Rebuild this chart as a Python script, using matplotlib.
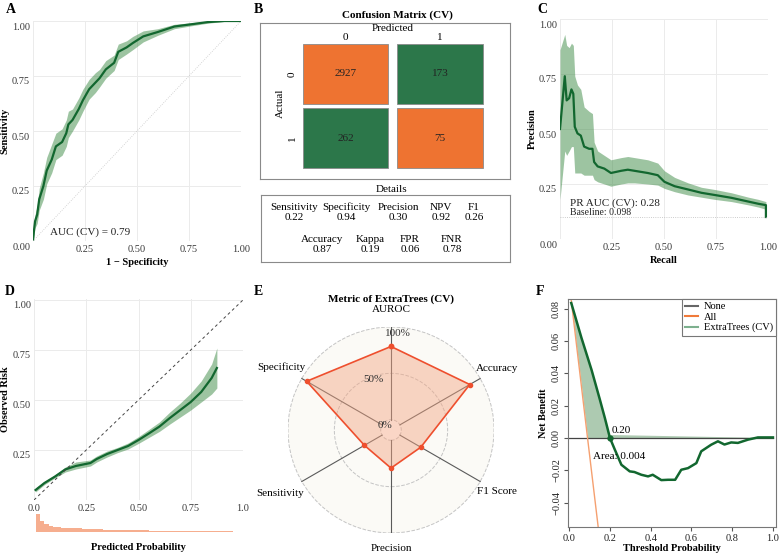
import numpy as np
import matplotlib
matplotlib.use("Agg")
import matplotlib.pyplot as plt
import matplotlib.transforms as mtransforms
from matplotlib.lines import Line2D
from matplotlib.patches import Circle

plt.rcParams["font.family"] = ["Liberation Serif", "DejaVu Serif"]

GREEN = "#12672F"
BAND = "#3C8A45"
GRID = "#EBEBEB"
TICK = "#3A3A3A"

# ---- A: ROC (CV) ----
fpr = [0, 0.005, 0.01, 0.02, 0.03, 0.05, 0.066, 0.09, 0.11, 0.14, 0.16, 0.17, 0.19, 0.22, 0.24,
       0.27, 0.30, 0.32, 0.35, 0.39, 0.41, 0.45, 0.48, 0.53, 0.60, 0.68, 0.76, 0.84, 0.92, 1.0]
tpr = [0, 0.05, 0.09, 0.12, 0.19, 0.25, 0.32, 0.37, 0.43, 0.45, 0.49, 0.53, 0.55, 0.60, 0.64,
       0.69, 0.72, 0.74, 0.78, 0.81, 0.86, 0.88, 0.90, 0.93, 0.95, 0.975, 0.985, 0.995, 1.0, 1.0]
tpr_lo = [0, 0.03, 0.06, 0.08, 0.14, 0.19, 0.26, 0.31, 0.37, 0.39, 0.43, 0.47, 0.50, 0.55, 0.59,
          0.645, 0.675, 0.70, 0.74, 0.775, 0.825, 0.85, 0.87, 0.905, 0.935, 0.965, 0.978, 0.99, 0.998, 1.0]
tpr_hi = [0, 0.07, 0.12, 0.16, 0.24, 0.31, 0.38, 0.44, 0.49, 0.51, 0.55, 0.59, 0.60, 0.65, 0.69,
          0.735, 0.765, 0.78, 0.82, 0.845, 0.895, 0.91, 0.93, 0.955, 0.965, 0.985, 0.992, 1.0, 1.0, 1.0]
roc_auc = 0.79

# ---- B: confusion matrix ----
cm_values = [[2927, 173], [262, 75]]
cm_colors = [["#EE7331", "#2C774A"], ["#2C774A", "#EE7331"]]
class_labels = ["0", "1"]
detail_names_1 = ["Sensitivity", "Specificity", "Precision", "NPV", "F1"]
detail_vals_1 = ["0.22", "0.94", "0.30", "0.92", "0.26"]
detail_names_2 = ["Accuracy", "Kappa", "FPR", "FNR"]
detail_vals_2 = ["0.87", "0.19", "0.06", "0.78"]

# ---- C: precision-recall ----
recall = [0, 0.023, 0.032, 0.044, 0.055, 0.064, 0.071, 0.084, 0.10, 0.116, 0.14, 0.156, 0.164,
          0.181, 0.213, 0.245, 0.294, 0.326, 0.358, 0.422, 0.47, 0.502, 0.551, 0.616, 0.68,
          0.744, 0.825, 0.906, 0.954, 0.99, 0.99]
precision = [0.50, 0.74, 0.63, 0.64, 0.68, 0.66, 0.51, 0.48, 0.47, 0.42, 0.41, 0.41, 0.35,
             0.33, 0.32, 0.30, 0.31, 0.315, 0.31, 0.30, 0.29, 0.26, 0.24, 0.225, 0.21,
             0.20, 0.187, 0.17, 0.16, 0.154, 0.10]
prec_lo = [0.18, 0.40, 0.38, 0.40, 0.42, 0.42, 0.30, 0.30, 0.30, 0.29, 0.29, 0.29, 0.27,
           0.26, 0.25, 0.24, 0.25, 0.255, 0.255, 0.25, 0.245, 0.23, 0.215, 0.20, 0.19,
           0.18, 0.17, 0.155, 0.145, 0.135, 0.135]
prec_hi = [0.86, 0.93, 0.88, 0.87, 0.89, 0.88, 0.74, 0.70, 0.68, 0.60, 0.58, 0.57, 0.44,
           0.40, 0.38, 0.36, 0.37, 0.375, 0.37, 0.36, 0.345, 0.31, 0.28, 0.255, 0.235,
           0.225, 0.21, 0.19, 0.18, 0.17, 0.17]
pr_auc = 0.28
baseline = 0.098

# ---- D: calibration ----
cal_x = [0.0075, 0.05, 0.1, 0.15, 0.2, 0.27, 0.3, 0.35, 0.4, 0.45, 0.5, 0.55, 0.6, 0.65,
         0.7, 0.75, 0.8, 0.85, 0.875]
cal_y = [0.05, 0.085, 0.117, 0.153, 0.17, 0.185, 0.205, 0.23, 0.25, 0.27, 0.30, 0.333,
         0.367, 0.41, 0.45, 0.49, 0.54, 0.61, 0.66]
cal_lo = [0.04, 0.077, 0.11, 0.14, 0.155, 0.17, 0.19, 0.215, 0.237, 0.255, 0.283, 0.313,
          0.343, 0.38, 0.415, 0.45, 0.49, 0.53, 0.56]
cal_hi = [0.06, 0.093, 0.125, 0.165, 0.19, 0.20, 0.22, 0.245, 0.263, 0.285, 0.317, 0.353,
          0.39, 0.44, 0.485, 0.535, 0.595, 0.68, 0.76]
hist_edges = np.arange(0.01, 0.95, 0.02)
hist_counts = [100, 62, 44, 35, 30, 26, 23, 22, 21, 22, 20, 18, 17, 16, 15, 14, 13, 13, 12,
               12, 11, 11, 10, 10, 9, 9, 9, 8, 8, 8, 7, 7, 7, 6, 6, 6, 5, 5, 5, 5, 4, 4, 4,
               4, 3, 3, 3]

# ---- E: radar ----
radar_labels = ["AUROC", "Accuracy", "F1 Score", "Precision", "Sensitivity", "Specificity"]
radar_values = [0.79, 0.87, 0.26, 0.30, 0.22, 0.94]
radar_grid = [0.0, 0.5, 1.0]
radar_grid_labels = ["0%", "50%", "100%"]

# ---- F: decision curve ----
thr = [0.01, 0.06, 0.11, 0.15, 0.175, 0.2, 0.224, 0.256, 0.297, 0.32, 0.354, 0.387, 0.41,
       0.452, 0.485, 0.52, 0.55, 0.583, 0.624, 0.648, 0.697, 0.73, 0.762, 0.795, 0.828,
       0.877, 0.926, 1.0]
nb_model = [0.0835, 0.062, 0.042, 0.024, 0.0124, 0.0, -0.0072, -0.0165, -0.0206, -0.021,
            -0.0227, -0.0237, -0.0227, -0.026, -0.0258, -0.0258, -0.0196, -0.0186, -0.0155,
            -0.0082, -0.0041, -0.002, -0.004, -0.0027, -0.003, -0.001, 0.0004, 0.0004]
thr_all = [0.01, 0.09, 0.145]
nb_all = [0.085, 0.0, -0.058]
thr_none = [0.0, 1.0]
nb_none = [0.0, 0.0]
shade_x = [0.01, 0.06, 0.09, 0.11, 0.15, 0.175, 0.2]
shade_hi = [0.0835, 0.062, 0.050, 0.042, 0.024, 0.0124, 0.0]
shade_lo = [0.0835, 0.032, 0.0, 0.0, 0.0, 0.0, 0.0]
sliver_x = [0.2, 1.0]
sliver_hi = [0.0022, 0.0003]
cross_thr = 0.20
dca_area = 0.004

W, H = 779, 554
fig = plt.figure(figsize=(W / 100, H / 100), dpi=100)


def px_axes(x0, y0, x1, y1, **kw):
    return fig.add_axes([x0 / W, 1 - y1 / H, (x1 - x0) / W, (y1 - y0) / H], **kw)


def gg_style(ax):
    for s in ax.spines.values():
        s.set_visible(False)
    ax.grid(True, color=GRID, lw=0.7)
    ax.set_axisbelow(True)
    ax.tick_params(length=0, labelsize=7.5, labelcolor=TICK)
    ax.tick_params(axis="y", pad=2)
    ax.tick_params(axis="x", pad=3)


def shift_ylabels(ax, dy=-5):
    off = mtransforms.ScaledTranslation(0, dy / 100, fig.dpi_scale_trans)
    for lab in ax.get_yticklabels():
        lab.set_transform(lab.get_transform() + off)


ticks = [0, 0.25, 0.5, 0.75, 1.0]
# the shared corner "0.00" is carried by the y axis only
xlabels_2d = [""] + [f"{t:.2f}" for t in ticks[1:]]

# A
ax = px_axes(33, 21, 241, 241)
gg_style(ax)
ax.fill_between(fpr, tpr_lo, tpr_hi, color=BAND, alpha=0.5, lw=0)
ax.plot(fpr, tpr, color=GREEN, lw=1.6)
ax.plot([0, 1], [0, 1], color="#C8C8C8", lw=0.6, ls=":")
ax.set_xlim(0, 1)
ax.set_ylim(0, 1)
ax.set_xticks(ticks)
ax.set_yticks(ticks)
ax.set_xticklabels(xlabels_2d)
ax.set_yticklabels([f"{t:.2f}" for t in ticks])
shift_ylabels(ax)
ax.text(0.08, 0.04, f"AUC (CV) = {roc_auc:.2f}", fontsize=8, color="#222222", va="center")
ax.set_xlabel("1 \u2212 Specificity", fontsize=7.5, fontweight="bold", labelpad=3)
ax.set_ylabel("Sensitivity", fontsize=7.5, fontweight="bold", va="center")
ax.yaxis.set_label_coords(-0.135, 0.5)

# B
axb = px_axes(260, 23, 510, 179)
axb.set_xlim(-0.905, 1.741)
axb.set_ylim(1.628, -0.79)
axb.set_xticks([])
axb.set_yticks([])
for s in axb.spines.values():
    s.set_color("#8A8A8A")
    s.set_linewidth(0.8)
for r in range(2):
    axb.bar([0, 1], [0.93, 0.93], bottom=r - 0.465, width=0.9, color=cm_colors[r],
            edgecolor="#8A8A8A", linewidth=0.6)
    for c in range(2):
        axb.text(c, r, str(cm_values[r][c]), ha="center", va="center", fontsize=8, color="#222222")
axb.text(0.5, -0.70, "Predicted", ha="center", va="center", fontsize=8)
for c, lab in enumerate(class_labels):
    axb.text(c, -0.56, lab, ha="center", va="center", fontsize=8)
    axb.text(-0.56, c, lab, ha="center", va="center", fontsize=8, rotation=90)
axb.text(-0.69, 0.46, "Actual", ha="center", va="center", fontsize=8, rotation=90)
fig.text(397 / W, 1 - 15 / H, "Confusion Matrix (CV)", ha="center", va="center",
         fontsize=8, fontweight="bold")

axd = px_axes(261, 195, 510, 262)
axd.set_xlim(0, 1)
axd.set_ylim(0, 1)
axd.set_xticks([])
axd.set_yticks([])
for s in axd.spines.values():
    s.set_color("#8A8A8A")
    s.set_linewidth(0.8)
fig.text(392 / W, 1 - 190 / H, "Details", ha="center", va="center", fontsize=8)
x1 = [0.133, 0.341, 0.55, 0.723, 0.855]
x2 = [0.245, 0.438, 0.598, 0.767]
for xp, n, v in zip(x1, detail_names_1, detail_vals_1):
    axd.text(xp, 0.82, n, ha="center", va="center", fontsize=8)
    axd.text(xp, 0.67, v, ha="center", va="center", fontsize=8)
for xp, n, v in zip(x2, detail_names_2, detail_vals_2):
    axd.text(xp, 0.33, n, ha="center", va="center", fontsize=8)
    axd.text(xp, 0.18, v, ha="center", va="center", fontsize=8)

# C
ax = px_axes(560, 19, 768, 239)
gg_style(ax)
ax.fill_between(recall, prec_lo, prec_hi, color=BAND, alpha=0.5, lw=0)
ax.plot(recall, precision, color=GREEN, lw=1.6)
ax.axhline(baseline, color="#BBBBBB", lw=0.6, ls=":")
ax.set_xlim(0, 1)
ax.set_ylim(0, 1)
ax.set_xticks(ticks)
ax.set_yticks(ticks)
ax.set_xticklabels(xlabels_2d)
ax.set_yticklabels([f"{t:.2f}" for t in ticks])
shift_ylabels(ax)
ax.text(0.05, 0.165, f"PR AUC (CV): {pr_auc:.2f}", fontsize=8, color="#222222", va="center")
ax.text(0.05, 0.12, f"Baseline: {baseline:.3f}", fontsize=7, color="#222222", va="center")
ax.set_xlabel("Recall", fontsize=7.5, fontweight="bold", labelpad=3)
ax.set_ylabel("Precision", fontsize=7.5, fontweight="bold", va="center")
ax.yaxis.set_label_coords(-0.135, 0.5)

# D
ax = px_axes(34, 299, 243, 500)
gg_style(ax)
ax.fill_between(cal_x, cal_lo, cal_hi, color=BAND, alpha=0.5, lw=0)
ax.plot(cal_x, cal_y, color=GREEN, lw=1.6)
ax.plot([0, 1], [0, 1], color="#444444", lw=0.7, ls=(0, (3, 3)))
ax.set_xlim(0, 1)
ax.set_ylim(0, 1.005)
ax.set_xticks(ticks)
ax.set_xticklabels(["0.0", "0.25", "0.50", "0.75", "1.0"])
ax.set_yticks(ticks[1:])
ax.set_yticklabels([f"{t:.2f}" for t in ticks[1:]])
shift_ylabels(ax)
ax.set_ylabel("Observed Risk", fontsize=7.5, fontweight="bold", va="center")
ax.yaxis.set_label_coords(-0.135, 0.5)

axh = px_axes(34, 514, 243, 532)
axh.bar(hist_edges[:len(hist_counts)], hist_counts, width=0.02, align="edge",
        color="#F6AE8F", lw=0)
axh.set_xlim(0, 1)
axh.set_ylim(0, 100)
axh.axis("off")
fig.text(138 / W, 1 - 547 / H, "Predicted Probability", ha="center", va="center",
         fontsize=7.5, fontweight="bold")

# E  (radar drawn on a square axes; radius 0.1 is the 0% ring, 1.0 the 100% ring)
axr = px_axes(288, 327, 494, 533)
axr.set_xlim(-1, 1)
axr.set_ylim(-1, 1)
axr.set_aspect("equal")
axr.axis("off")
angles = np.linspace(0, 2 * np.pi, len(radar_labels), endpoint=False)


def radius(v):
    return 0.1 + 0.9 * np.asarray(v)


axr.add_patch(Circle((0, 0), 1.0, facecolor="#FBFAF6", edgecolor="none", zorder=0))
axr.add_patch(Circle((0, 0), radius(0.0), facecolor="white", edgecolor="none", zorder=0.5))
for g in radar_grid:
    axr.add_patch(Circle((0, 0), radius(g), fill=False, edgecolor="#C4C4C4", lw=0.7,
                         ls="--", zorder=1))
for a in angles:
    axr.plot([radius(0) * np.sin(a), np.sin(a)], [radius(0) * np.cos(a), np.cos(a)],
             color="#5A5A5A", lw=0.8, zorder=1.5)
rv = radius(radar_values)
px_ = np.append(rv * np.sin(angles), rv[0] * np.sin(angles[0]))
py_ = np.append(rv * np.cos(angles), rv[0] * np.cos(angles[0]))
axr.fill(px_, py_, color="#F4A582", alpha=0.45, lw=0, zorder=2)
axr.plot(px_, py_, color="#EE4F2E", lw=1.2, marker="o", ms=3, zorder=3)
label_r = [1.17, 1.19, 1.19, 1.15, 1.24, 1.23]
for a, lab, rr in zip(angles, radar_labels, label_r):
    axr.text(rr * np.sin(a), rr * np.cos(a), lab, ha="center", va="center", fontsize=8,
             clip_on=False)
for g, lab, dx in zip(radar_grid, radar_grid_labels, [-0.06, -0.17, 0.07]):
    axr.text(dx, radius(g) - 0.06, lab, ha="center", va="center", fontsize=8, color="#333333",
             zorder=4)
fig.text(391 / W, 1 - 299 / H, "Metric of ExtraTrees (CV)", ha="center", va="center",
         fontsize=8, fontweight="bold")

# F
ax = px_axes(568, 299, 776, 527)
ax.fill_between(shade_x, shade_lo, shade_hi, color="#4A8A52", alpha=0.45, lw=0)
ax.fill_between(sliver_x, [0, 0], sliver_hi, color="#4A8A52", alpha=0.45, lw=0)
ax.plot(thr_none, nb_none, color="#444444", lw=0.9)
ax.plot(thr_all, nb_all, color="#F5A070", lw=1.0)
ax.plot(thr, nb_model, color=GREEN, lw=1.8)
ax.plot([cross_thr], [0], "o", color=GREEN, ms=3.5)
ax.text(cross_thr + 0.01, 0.0045, f"{cross_thr:.2f}", fontsize=8, va="center")
ax.text(0.115, -0.0115, f"Area: {dca_area:.3f}", fontsize=8, va="center")
ax.set_xlim(-0.006, 1.015)
ax.set_ylim(-0.055, 0.086)
ax.set_xticks([0, 0.2, 0.4, 0.6, 0.8, 1.0])
ax.set_xticklabels(["0.0", "0.2", "0.4", "0.6", "0.8", "1.0"])
ax.set_yticks([-0.04, -0.02, 0, 0.02, 0.04, 0.06, 0.08])
ax.set_yticklabels(["\u22120.04", "\u22120.02", "0.00", "0.02", "0.04", "0.06", "0.08"],
                   rotation=90, va="center")
ax.tick_params(labelsize=7.5, length=3, color="#555555", labelcolor="#222222", pad=2)
for s in ax.spines.values():
    s.set_color("#777777")
    s.set_linewidth(0.8)
ax.set_xlabel("Threshold Probability", fontsize=7.5, fontweight="bold", labelpad=1)
ax.set_ylabel("Net Benefit", fontsize=7.5, fontweight="bold", labelpad=3)
handles = [Line2D([], [], color="#666666", lw=1.5),
           Line2D([], [], color="#F07A3A", lw=1.5),
           Line2D([], [], color="#7DB08E", lw=1.5)]
leg = ax.legend(handles, ["None", "All", "ExtraTrees (CV)"], loc="upper right", fontsize=7.5,
                frameon=True, fancybox=False, edgecolor="#777777", framealpha=1,
                borderaxespad=0, handlelength=1.2, labelspacing=0.1, borderpad=0.3,
                handletextpad=0.6)
leg.get_frame().set_linewidth(0.8)

# panel letters
for lab, xp, yp in [("A", 6, 3), ("B", 254, 3), ("C", 537, 3),
                    ("D", 5, 285), ("E", 254, 285), ("F", 536, 285)]:
    fig.text(xp / W, 1 - yp / H, lab, ha="left", va="top", fontsize=10, fontweight="bold")

fig.savefig("out.png", dpi=100)
